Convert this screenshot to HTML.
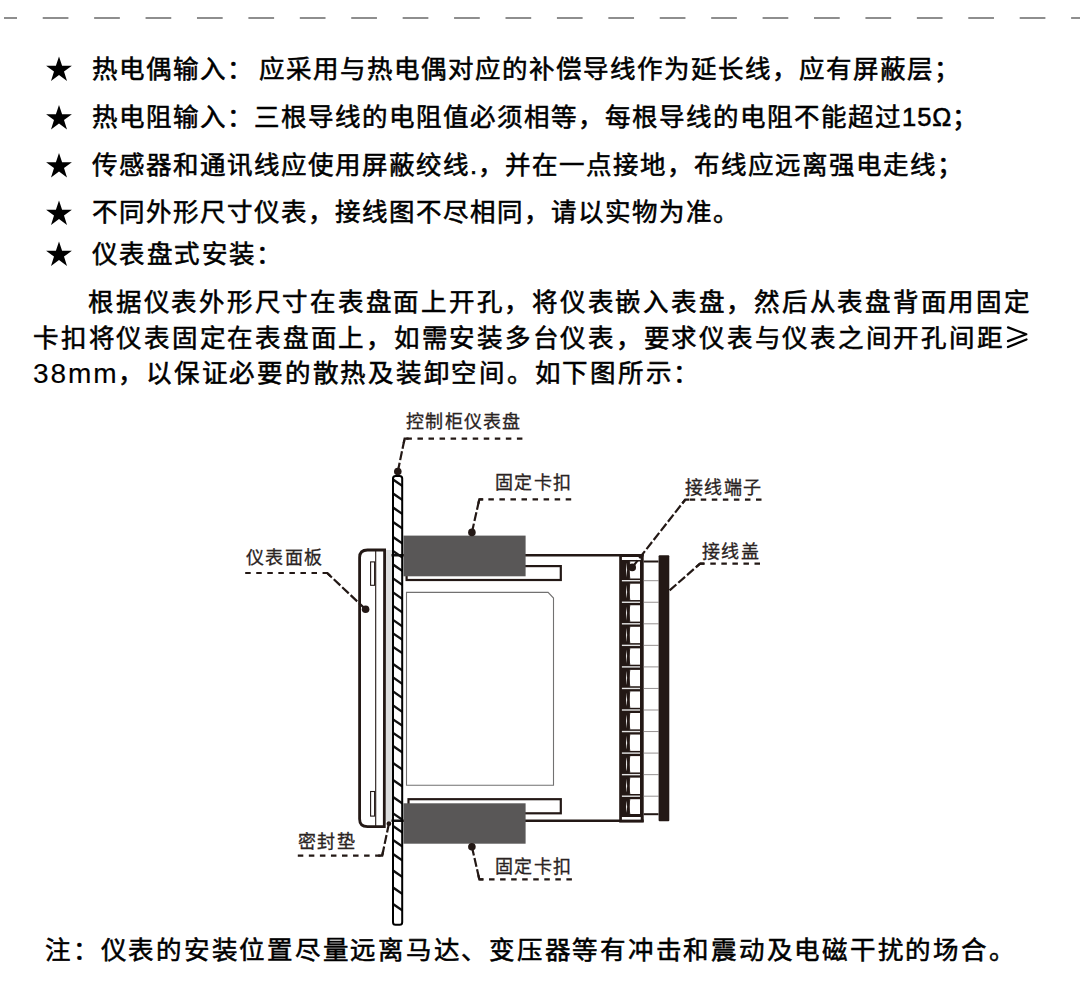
<!DOCTYPE html>
<html lang="zh-CN"><head><meta charset="utf-8">
<style>
html,body{margin:0;padding:0;background:#fff;}
body{width:1080px;height:1002px;position:relative;overflow:hidden;font-family:"Liberation Sans",sans-serif;color:#000;}
.t{position:absolute;white-space:nowrap;font-size:25.5px;line-height:27px;letter-spacing:1px;-webkit-text-stroke:0.55px #000;}
.p{letter-spacing:1.75px;}
#n1{letter-spacing:1.75px;}
.lb{position:absolute;white-space:nowrap;font-size:18px;line-height:18px;color:#2a2322;letter-spacing:1.3px;-webkit-text-stroke:0.3px #2a2322;}
svg{position:absolute;left:0;top:0;}
</style></head><body>
<svg width="1080" height="40" viewBox="0 0 1080 40">
<line x1="4" y1="18" x2="1080" y2="18" stroke="#8e8e8e" stroke-width="2" stroke-dasharray="25.7 25.72" stroke-dashoffset="12.7"/>
</svg>
<svg width="1080" height="300" viewBox="0 0 1080 300">
<g fill="#000">
<polygon points="59,56.5 62.1,65.8 71.9,65.8 64,71.6 67,80.9 59,75.1 51,80.9 54,71.6 46.1,65.8 55.9,65.8"/>
<polygon points="59,105.0 62.1,114.3 71.9,114.3 64,120.1 67,129.4 59,123.6 51,129.4 54,120.1 46.1,114.3 55.9,114.3"/>
<polygon points="59,153.0 62.1,162.3 71.9,162.3 64,168.1 67,177.4 59,171.6 51,177.4 54,168.1 46.1,162.3 55.9,162.3"/>
<polygon points="59,200.5 62.1,209.8 71.9,209.8 64,215.6 67,224.9 59,219.1 51,224.9 54,215.6 46.1,209.8 55.9,209.8"/>
<polygon points="59,241.5 62.1,250.8 71.9,250.8 64,256.6 67,265.9 59,260.1 51,265.9 54,256.6 46.1,250.8 55.9,250.8"/>
</g>
</svg>
<svg class="dg" width="1080" height="1002" viewBox="0 0 1080 1002">
<defs><clipPath id="barclip"><rect x="393.0" y="476" width="9.199999999999989" height="448.75" rx="1.5"/></clipPath></defs>
<!-- gasket -->
<rect x="386" y="550" width="6.4" height="271" fill="#dcdddd"/>
<!-- bezel -->
<path d="M384.6 550 L367.5 550 Q359.6 550 359.6 557.5 L359.6 819 Q359.6 826.6 367.5 826.6 L384.3 826.6 Z" fill="none" stroke="#231815" stroke-width="2.8"/>
<line x1="375.7" y1="550" x2="375.7" y2="826" stroke="#231815" stroke-width="1.1"/>
<rect x="370.6" y="561.9" width="4" height="23.4" fill="none" stroke="#231815" stroke-width="1.1"/>
<rect x="370.6" y="791.5" width="4" height="24.6" fill="none" stroke="#231815" stroke-width="1.1"/>
<!-- housing lines -->
<line x1="391.5" y1="555.3" x2="643.7" y2="555.3" stroke="#231815" stroke-width="2.5"/>
<line x1="391.5" y1="820.7" x2="643.7" y2="820.7" stroke="#231815" stroke-width="2.5"/>
<!-- slots -->
<rect x="406.6" y="566.1" width="154.2" height="13.9" fill="none" stroke="#231815" stroke-width="2.2"/>
<rect x="408.5" y="799.2" width="152.3" height="14.1" fill="none" stroke="#231815" stroke-width="2.2"/>
<!-- display window -->
<path d="M406.5 785.3 L406.5 592.4 L548.1 592.4 L553.5 598 L553.5 785.3 Z" fill="none" stroke="#727171" stroke-width="1.1"/>
<!-- clips -->
<rect x="403.5" y="535.6" width="122.1" height="40.7" fill="#595757"/>
<rect x="403.5" y="803.3" width="122.1" height="40.4" fill="#595757"/>
<!-- panel bar -->
<rect x="393.0" y="476" width="9.20" height="448.75" rx="2.5" fill="#fff"/>
<g clip-path="url(#barclip)" stroke="#111" stroke-width="2.3">
<line x1="392" y1="478.82" x2="404" y2="487.10"/>
<line x1="392" y1="492.82" x2="404" y2="501.10"/>
<line x1="392" y1="506.82" x2="404" y2="515.10"/>
<line x1="392" y1="521.32" x2="404" y2="529.60"/>
<line x1="392" y1="536.32" x2="404" y2="544.60"/>
<line x1="392" y1="550.32" x2="404" y2="558.60"/>
<line x1="392" y1="563.82" x2="404" y2="572.10"/>
<line x1="392" y1="577.72" x2="404" y2="586.00"/>
<line x1="392" y1="591.72" x2="404" y2="600.00"/>
<line x1="392" y1="605.22" x2="404" y2="613.50"/>
<line x1="392" y1="619.22" x2="404" y2="627.50"/>
<line x1="392" y1="632.62" x2="404" y2="640.90"/>
<line x1="392" y1="646.12" x2="404" y2="654.40"/>
<line x1="392" y1="663.32" x2="404" y2="671.60"/>
<line x1="392" y1="676.72" x2="404" y2="685.00"/>
<line x1="392" y1="690.72" x2="404" y2="699.00"/>
<line x1="392" y1="704.72" x2="404" y2="713.00"/>
<line x1="392" y1="718.62" x2="404" y2="726.90"/>
<line x1="392" y1="732.12" x2="404" y2="740.40"/>
<line x1="392" y1="745.32" x2="404" y2="753.60"/>
<line x1="392" y1="762.32" x2="404" y2="770.60"/>
<line x1="392" y1="779.32" x2="404" y2="787.60"/>
<line x1="392" y1="796.32" x2="404" y2="804.60"/>
<line x1="392" y1="812.62" x2="404" y2="820.90"/>
<line x1="392" y1="825.32" x2="404" y2="833.60"/>
<line x1="392" y1="839.32" x2="404" y2="847.60"/>
<line x1="392" y1="853.32" x2="404" y2="861.60"/>
<line x1="392" y1="869.82" x2="404" y2="878.10"/>
<line x1="392" y1="886.82" x2="404" y2="895.10"/>
<line x1="392" y1="903.32" x2="404" y2="911.60"/>
<line x1="391.5" y1="555.3" x2="404" y2="555.3" stroke-width="2.5"/>
<line x1="391.5" y1="820.7" x2="404" y2="820.7" stroke-width="2.5"/>
</g>
<rect x="393.0" y="476" width="9.20" height="448.75" rx="2.5" fill="none" stroke="#000" stroke-width="2"/>
<!-- terminal block -->
<rect x="619.2" y="554" width="24.5" height="268.6" fill="#231815"/>
<rect x="621.9" y="557" width="18.8" height="3" fill="#fff"/>
<rect x="621.9" y="817" width="18.8" height="2.6" fill="#fff"/>
<rect x="629.8" y="561.50" width="10.2" height="17.00" fill="#fff"/>
<path d="M626.6 562.70 Q625.6 570.00 626.6 577.30 Q627.6 570.00 626.6 562.70Z" fill="#fff"/>
<path d="M629.9 561.50 Q627.0 570.00 629.9 578.50" fill="none" stroke="#231815" stroke-width="0.8"/>
<rect x="629.8" y="583.70" width="10.2" height="16.35" fill="#fff"/>
<path d="M626.6 584.90 Q625.6 591.88 626.6 598.85 Q627.6 591.88 626.6 584.90Z" fill="#fff"/>
<path d="M629.9 583.70 Q627.0 591.88 629.9 600.05" fill="none" stroke="#231815" stroke-width="0.8"/>
<rect x="629.8" y="605.25" width="10.2" height="16.35" fill="#fff"/>
<path d="M626.6 606.45 Q625.6 613.42 626.6 620.40 Q627.6 613.42 626.6 606.45Z" fill="#fff"/>
<path d="M629.9 605.25 Q627.0 613.42 629.9 621.60" fill="none" stroke="#231815" stroke-width="0.8"/>
<rect x="629.8" y="626.80" width="10.2" height="16.35" fill="#fff"/>
<path d="M626.6 628.00 Q625.6 634.98 626.6 641.95 Q627.6 634.98 626.6 628.00Z" fill="#fff"/>
<path d="M629.9 626.80 Q627.0 634.98 629.9 643.15" fill="none" stroke="#231815" stroke-width="0.8"/>
<rect x="629.8" y="648.35" width="10.2" height="16.35" fill="#fff"/>
<path d="M626.6 649.55 Q625.6 656.53 626.6 663.50 Q627.6 656.53 626.6 649.55Z" fill="#fff"/>
<path d="M629.9 648.35 Q627.0 656.53 629.9 664.70" fill="none" stroke="#231815" stroke-width="0.8"/>
<rect x="629.8" y="669.90" width="10.2" height="16.35" fill="#fff"/>
<path d="M626.6 671.10 Q625.6 678.08 626.6 685.05 Q627.6 678.08 626.6 671.10Z" fill="#fff"/>
<path d="M629.9 669.90 Q627.0 678.08 629.9 686.25" fill="none" stroke="#231815" stroke-width="0.8"/>
<rect x="629.8" y="691.45" width="10.2" height="16.35" fill="#fff"/>
<path d="M626.6 692.65 Q625.6 699.62 626.6 706.60 Q627.6 699.62 626.6 692.65Z" fill="#fff"/>
<path d="M629.9 691.45 Q627.0 699.62 629.9 707.80" fill="none" stroke="#231815" stroke-width="0.8"/>
<rect x="629.8" y="713.00" width="10.2" height="16.35" fill="#fff"/>
<path d="M626.6 714.20 Q625.6 721.17 626.6 728.15 Q627.6 721.17 626.6 714.20Z" fill="#fff"/>
<path d="M629.9 713.00 Q627.0 721.17 629.9 729.35" fill="none" stroke="#231815" stroke-width="0.8"/>
<rect x="629.8" y="734.55" width="10.2" height="16.35" fill="#fff"/>
<path d="M626.6 735.75 Q625.6 742.73 626.6 749.70 Q627.6 742.73 626.6 735.75Z" fill="#fff"/>
<path d="M629.9 734.55 Q627.0 742.73 629.9 750.90" fill="none" stroke="#231815" stroke-width="0.8"/>
<rect x="629.8" y="756.10" width="10.2" height="16.35" fill="#fff"/>
<path d="M626.6 757.30 Q625.6 764.28 626.6 771.25 Q627.6 764.28 626.6 757.30Z" fill="#fff"/>
<path d="M629.9 756.10 Q627.0 764.28 629.9 772.45" fill="none" stroke="#231815" stroke-width="0.8"/>
<rect x="629.8" y="777.65" width="10.2" height="16.35" fill="#fff"/>
<path d="M626.6 778.85 Q625.6 785.83 626.6 792.80 Q627.6 785.83 626.6 778.85Z" fill="#fff"/>
<path d="M629.9 777.65 Q627.0 785.83 629.9 794.00" fill="none" stroke="#231815" stroke-width="0.8"/>
<rect x="629.8" y="799.20" width="10.2" height="14.80" fill="#fff"/>
<path d="M626.6 800.40 Q625.6 806.60 626.6 812.80 Q627.6 806.60 626.6 800.40Z" fill="#fff"/>
<path d="M629.9 799.20 Q627.0 806.60 629.9 814.00" fill="none" stroke="#231815" stroke-width="0.8"/>
<rect x="621.9" y="580.00" width="18.1" height="1.4" fill="#e6e6e6"/>
<line x1="643.7" y1="580.70" x2="658.5" y2="580.70" stroke="#8a8585" stroke-width="0.9"/>
<rect x="621.9" y="601.55" width="18.1" height="1.4" fill="#e6e6e6"/>
<line x1="643.7" y1="602.25" x2="658.5" y2="602.25" stroke="#8a8585" stroke-width="0.9"/>
<rect x="621.9" y="623.10" width="18.1" height="1.4" fill="#e6e6e6"/>
<line x1="643.7" y1="623.80" x2="658.5" y2="623.80" stroke="#8a8585" stroke-width="0.9"/>
<rect x="621.9" y="644.65" width="18.1" height="1.4" fill="#e6e6e6"/>
<line x1="643.7" y1="645.35" x2="658.5" y2="645.35" stroke="#8a8585" stroke-width="0.9"/>
<rect x="621.9" y="666.20" width="18.1" height="1.4" fill="#e6e6e6"/>
<line x1="643.7" y1="666.90" x2="658.5" y2="666.90" stroke="#8a8585" stroke-width="0.9"/>
<rect x="621.9" y="687.75" width="18.1" height="1.4" fill="#e6e6e6"/>
<line x1="643.7" y1="688.45" x2="658.5" y2="688.45" stroke="#8a8585" stroke-width="0.9"/>
<rect x="621.9" y="709.30" width="18.1" height="1.4" fill="#e6e6e6"/>
<line x1="643.7" y1="710.00" x2="658.5" y2="710.00" stroke="#8a8585" stroke-width="0.9"/>
<rect x="621.9" y="730.85" width="18.1" height="1.4" fill="#e6e6e6"/>
<line x1="643.7" y1="731.55" x2="658.5" y2="731.55" stroke="#8a8585" stroke-width="0.9"/>
<rect x="621.9" y="752.40" width="18.1" height="1.4" fill="#e6e6e6"/>
<line x1="643.7" y1="753.10" x2="658.5" y2="753.10" stroke="#8a8585" stroke-width="0.9"/>
<rect x="621.9" y="773.95" width="18.1" height="1.4" fill="#e6e6e6"/>
<line x1="643.7" y1="774.65" x2="658.5" y2="774.65" stroke="#8a8585" stroke-width="0.9"/>
<rect x="621.9" y="795.50" width="18.1" height="1.4" fill="#e6e6e6"/>
<line x1="643.7" y1="796.20" x2="658.5" y2="796.20" stroke="#8a8585" stroke-width="0.9"/>
<line x1="643.7" y1="561.5" x2="658.5" y2="561.5" stroke="#231815" stroke-width="2"/>
<line x1="643.7" y1="814.2" x2="658.5" y2="814.2" stroke="#231815" stroke-width="2"/>
<rect x="658.6" y="555.2" width="10.7" height="266" rx="1" fill="#231815"/>
<!-- leaders -->
<g fill="none" stroke="#231815" stroke-width="2.2" stroke-dasharray="5.5 5.55">
<path d="M522.4 438.7 L404.6 438.7"/>
<path d="M571.2 499.4 L479.3 499.4"/>
<path d="M761.5 499.7 L685.2 499.7"/>
<path d="M760 563.7 L700 563.7"/>
<path d="M245.2 573 L327.2 573"/>
<path d="M297.8 855.6 L382.2 855.6"/>
<path d="M571.9 879.3 L479.3 879.3"/>
</g>
<g fill="none" stroke="#231815" stroke-width="2.2" stroke-dasharray="9 2.6">
<path d="M397.8 471.5 L404.6 438.7"/>
<path d="M471.9 532.4 L479.3 499.4"/>
<path d="M632.2 567.4 L685.2 499.7"/>
<path d="M669.6 590.4 L700 563.7"/>
<path d="M365.6 609.3 L327.2 573"/>
<path d="M388.9 823.7 L382.2 855.6"/>
<path d="M471.9 846.7 L479.3 879.3"/>
</g>
<g fill="none" stroke="#231815" stroke-width="2.2" stroke-linejoin="miter">
<path d="M408.6 438.7 L404.6 438.7 L403.7 443.1"/>
<path d="M483.3 499.4 L479.3 499.4 L478.3 503.8"/>
<path d="M689.2 499.7 L685.2 499.7 L682.4 503.2"/>
<path d="M704.0 563.7 L700 563.7 L696.6 566.7"/>
<path d="M323.2 573.0 L327.2 573 L330.5 576.1"/>
<path d="M378.2 855.6 L382.2 855.6 L383.1 851.2"/>
<path d="M483.3 879.3 L479.3 879.3 L478.3 874.9"/>
</g>
<g fill="#231815">
<circle cx="397.8" cy="471.5" r="3.8"/>
<circle cx="471.9" cy="532.4" r="3.8"/>
<circle cx="632.2" cy="567.4" r="3.8"/>
<circle cx="365.6" cy="609.3" r="3.8"/>
<circle cx="388.9" cy="823.7" r="2.4"/>
<circle cx="471.9" cy="846.7" r="3.8"/>
</g>
</svg>
<svg width="1080" height="400" viewBox="0 0 1080 400"><path d="M1008 327.4 L1026.3 334.3 L1008 341.1 M1008 347 L1026.5 339.5" fill="none" stroke="#000" stroke-width="2.2" stroke-linejoin="round" stroke-linecap="round"/></svg>
<div class="t" id="l1" style="left:92px;top:56px">热电偶输入：<span style="display:inline-block;width:5px"></span>应采用与热电偶对应的补偿导线作为延长线，应有屏蔽层；</div>
<div class="t" id="l2" style="left:92px;top:104px">热电阻输入：三根导线的电阻值必须相等，每根导线的电阻不能超过15Ω；</div>
<div class="t" id="l3" style="left:92px;top:152px">传感器和通讯线应使用屏蔽绞线.，并在一点接地，布线应远离强电走线；</div>
<div class="t" id="l4" style="left:92px;top:199px">不同外形尺寸仪表，接线图不尽相同，请以实物为准。</div>
<div class="t" id="l5" style="left:92px;top:241px;letter-spacing:1.4px">仪表盘式安装：</div>
<div class="t p" id="p1" style="left:88px;top:289px">根据仪表外形尺寸在表盘面上开孔，将仪表嵌入表盘，然后从表盘背面用固定</div>
<div class="t p" id="p2" style="left:33px;top:325px">卡扣将仪表固定在表盘面上，如需安装多台仪表，要求仪表与仪表之间开孔间距</div>
<div class="t p" id="p3" style="left:33px;top:359px"><span style="font-size:28px;letter-spacing:1.9px;-webkit-text-stroke:0.15px #000;position:relative;top:1px">38mm</span>，以保证必要的散热及装卸空间。如下图所示：</div>
<div class="t p" id="n1" style="left:45px;top:937px">注：仪表的安装位置尽量远离马达、变压器等有冲击和震动及电磁干扰的场合。</div>
<div class="lb" style="left:406px;top:413px">控制柜仪表盘</div>
<div class="lb" style="left:495px;top:474px">固定卡扣</div>
<div class="lb" style="left:685px;top:479px">接线端子</div>
<div class="lb" style="left:702px;top:543px">接线盖</div>
<div class="lb" style="left:246px;top:549px">仪表面板</div>
<div class="lb" style="left:298px;top:833px">密封垫</div>
<div class="lb" style="left:495px;top:858px">固定卡扣</div>
</body></html>
